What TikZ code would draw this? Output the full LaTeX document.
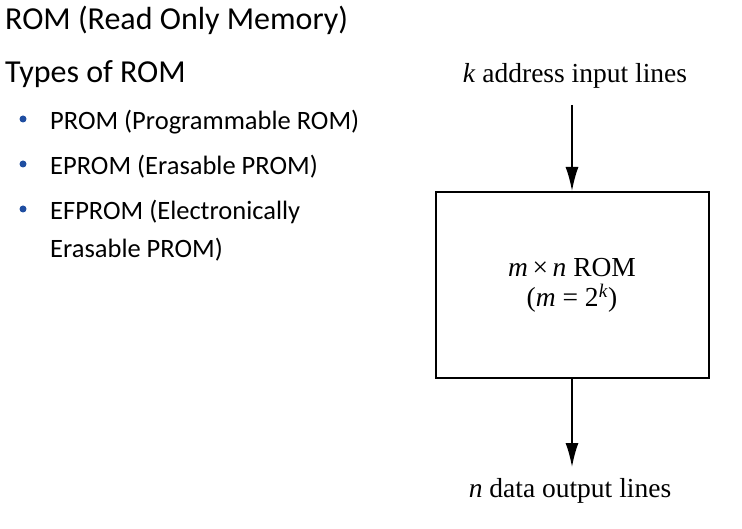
\documentclass[tikz,border=0pt]{standalone}
\usepackage{fontspec}
\setmainfont{Carlito}
\newfontfamily\romfont{Liberation Serif}
\usetikzlibrary{arrows.meta,positioning}
\definecolor{bulletblue}{RGB}{31,78,161}

\begin{document}
\begin{tikzpicture}[x=1pt,y=-1pt]
\tikzset{
  headline/.style={anchor=base west,inner sep=0pt,font=\fontsize{32}{38}\selectfont},
  item/.style={anchor=base west,inner sep=0pt,font=\fontsize{26.5}{32}\selectfont},
  bulletdot/.style={circle,fill=bulletblue,inner sep=0pt,minimum size=7pt},
  rombox/.style={draw,line width=2pt,minimum width=273pt,minimum height=186pt,font=\romfont\fontsize{27.5}{30}\selectfont,align=center},
  romlabel/.style={inner sep=0pt,font=\romfont\fontsize{27.5}{30}\selectfont},
  romarrow/.style={line width=1.6pt,-{Latex[length=24pt,width=13pt]}}
}
\useasboundingbox (0,0) rectangle (742,529);
% left column
\node [headline] (title) at (5,30) {ROM (Read Only Memory)};
\node [headline] (types) at (5,83) {Types of ROM};
\node [item] (prom) at (50,130) {PROM (Programmable ROM)};
\node [item] (eprom) at (50,175) {EPROM (Erasable PROM)};
\node [item] (efprom) at (50,220) {EFPROM (Electronically};
\node [item] (efprom2) at (50,258) {Erasable PROM)};
\foreach \n in {prom,eprom,efprom}
  \node [bulletdot] at ([xshift=-27pt,yshift=11pt]\n.base west) {};
% diagram
\node [rombox] (rom) at (572,285) {\textit{m}\,×\,\textit{n} ROM\\(\textit{m} = 2\textsuperscript{\textit{k}})};
\node [romlabel,anchor=base] (addr) at (575,83) {\textit{k} address input lines};
\node [romlabel,anchor=base] (data) at (570,497) {\textit{n} data output lines};
\coordinate (inp) at (rom.north |- 0,105);
\coordinate (outp) at (rom.south |- 0,467);
\draw [romarrow] (inp) -- (rom.north);
\draw [romarrow] (rom.south) -- (outp);
\end{tikzpicture}
\end{document}
